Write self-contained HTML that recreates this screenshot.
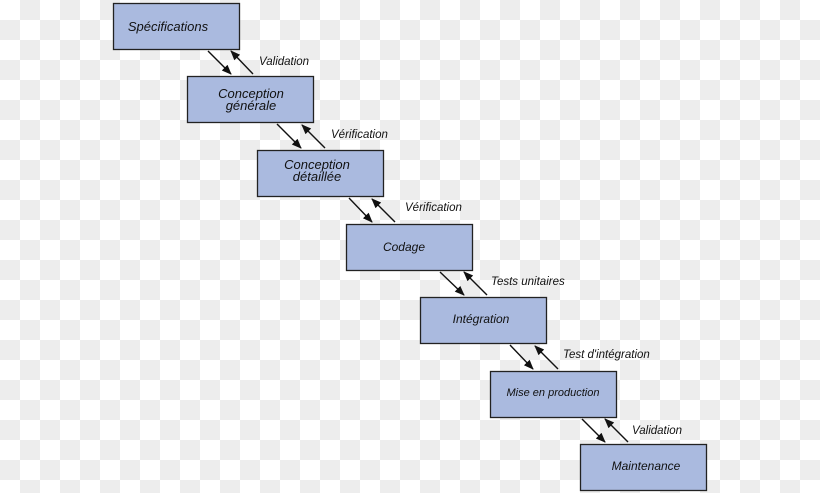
<!DOCTYPE html>
<html><head><meta charset="utf-8"><style>
body{margin:0;width:820px;height:493px;overflow:hidden;
background-color:#fff;
background-image:linear-gradient(45deg,#ededed 25%,transparent 25%,transparent 75%,#ededed 75%),linear-gradient(45deg,#ededed 25%,transparent 25%,transparent 75%,#ededed 75%);
background-size:40px 40px;background-position:0 0,20px 20px;
font-family:"Liberation Sans",sans-serif;}
svg{position:absolute;left:0;top:0}
</style></head><body>
<svg width="820" height="493" viewBox="0 0 820 493">
<defs><marker id="a" markerWidth="10" markerHeight="10" refX="9" refY="5" orient="auto" markerUnits="userSpaceOnUse"><path d="M0,1 L10,5 L0,9 Z" fill="#111"/></marker></defs>
<g fill="#aabadf" stroke="#222" stroke-width="1.3">
<rect x="113.5" y="3.5" width="126" height="46"/>
<rect x="187.5" y="76.5" width="126" height="46"/>
<rect x="257.5" y="150.5" width="126" height="46"/>
<rect x="346.5" y="224.5" width="126" height="46"/>
<rect x="420.5" y="297.5" width="126" height="46"/>
<rect x="490.5" y="371.5" width="126" height="46"/>
<rect x="580.5" y="444.5" width="126" height="46"/>
</g>
<g stroke="#111" stroke-width="1.4" marker-end="url(#a)">
<line x1="208" y1="51" x2="231" y2="74"/><line x1="253" y1="74" x2="231" y2="51"/>
<line x1="277" y1="124" x2="301" y2="148"/><line x1="325" y1="148" x2="302" y2="125"/>
<line x1="349" y1="198" x2="372" y2="222"/><line x1="395" y1="222" x2="372" y2="199"/>
<line x1="440" y1="272" x2="464" y2="295"/><line x1="487" y1="295" x2="464" y2="272"/>
<line x1="510" y1="345" x2="533" y2="369"/><line x1="558" y1="369" x2="535" y2="346"/>
<line x1="582" y1="419" x2="605" y2="442"/><line x1="628" y1="442" x2="605" y2="419"/>
</g>
<g font-style="italic" fill="#111" font-size="13" font-family="Liberation Sans, sans-serif">
<text x="168" y="31" text-anchor="middle">Spécifications</text>
<text x="251" y="98" text-anchor="middle">Conception</text>
<text x="251" y="110" text-anchor="middle">générale</text>
<text x="317" y="169" text-anchor="middle">Conception</text>
<text x="317" y="181" text-anchor="middle">détaillée</text>
<text x="404" y="251" text-anchor="middle" font-size="12">Codage</text>
<text x="481" y="323" text-anchor="middle" font-size="12">Intégration</text>
<text x="553" y="396" text-anchor="middle" font-size="11">Mise en production</text>
<text x="646" y="470" text-anchor="middle" font-size="12">Maintenance</text>
<g font-size="11.5">
<text x="259" y="65">Validation</text>
<text x="331" y="138">Vérification</text>
<text x="405" y="211">Vérification</text>
<text x="491" y="285">Tests unitaires</text>
<text x="563" y="358">Test d'intégration</text>
<text x="632" y="434">Validation</text>
</g></g>
</svg>
</body></html>
